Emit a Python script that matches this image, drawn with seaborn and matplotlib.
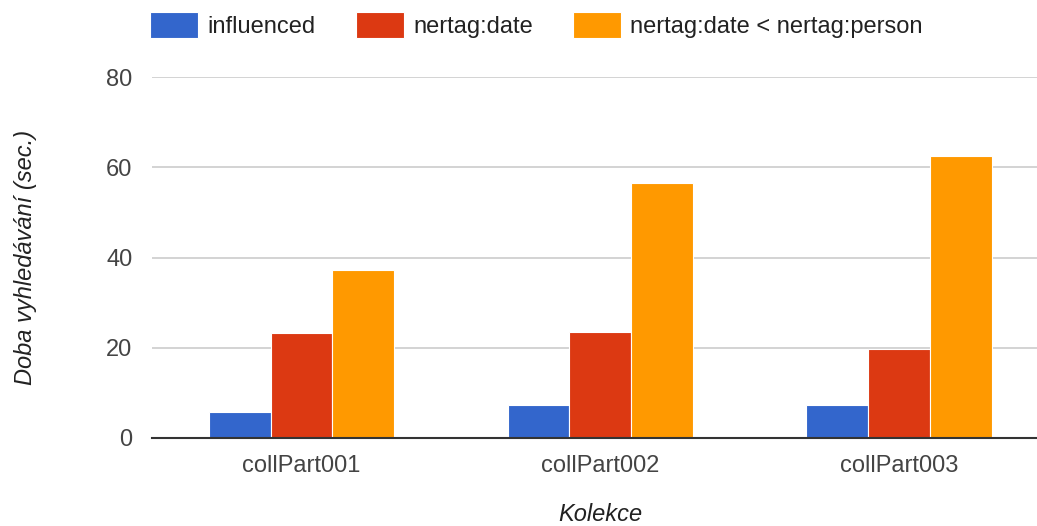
import pandas as pd
import seaborn as sns
import matplotlib.pyplot as plt

collections = ["collPart001", "collPart002", "collPart003"]
series = ["influenced", "nertag:date", "nertag:date < nertag:person"]
influenced = [5.8, 7.4, 7.4]
nertag_date = [23.2, 23.5, 19.8]
nertag_date_person = [37.2, 56.6, 62.4]
colors = ["#3366CC", "#DC3912", "#FF9900"]

df = pd.DataFrame({
    "Kolekce": collections * 3,
    "Series": [s for s in series for _ in collections],
    "Time": influenced + nertag_date + nertag_date_person,
})

sns.set_style("white")
plt.rcParams["font.family"] = ["Liberation Sans", "DejaVu Sans"]

fig = plt.figure(figsize=(10.37, 5.26), dpi=100)
ax = fig.add_axes([152 / 1037, 88 / 526, (1048.5 - 152) / 1037, 361 / 526])

sns.barplot(data=df, x="Kolekce", y="Time", hue="Series", palette=colors,
            width=0.62, edgecolor="white", linewidth=0.8, saturation=1,
            ax=ax, zorder=3)

ax.set_ylim(0, 80)
ax.set_xlim(-0.5, 2.5)
ax.set_yticks([0, 20, 40, 60, 80])
ax.grid(axis="y", color="#cccccc", linewidth=1.2, zorder=0)
ax.set_axisbelow(True)
for side in ["top", "right", "left"]:
    ax.spines[side].set_visible(False)
ax.spines["bottom"].set_color("#333333")
ax.spines["bottom"].set_linewidth(1.5)
ax.spines["bottom"].set_zorder(4)
ax.tick_params(axis="both", length=0, labelsize=17, labelcolor="#444444")
ax.tick_params(axis="y", pad=14)
ax.tick_params(axis="x", pad=12)

# axis titles, italic like the original chart
ax.set_xlabel("Kolekce", fontsize=17, style="italic", color="#222222", labelpad=19)
ax.set_ylabel("Doba vyhledávání (sec.)", fontsize=17, style="italic", color="#222222", labelpad=50)

handles, labels = ax.get_legend_handles_labels()
ax.legend_.remove()
fig.legend(handles, labels, loc="center left",
           bbox_to_anchor=(150 / 1037, 1 - 25 / 526), ncol=3, frameon=False,
           fontsize=17, handlelength=2.05, handleheight=1.3, handletextpad=0.38,
           columnspacing=1.7, borderpad=0, borderaxespad=0, labelcolor="#222222")

plt.savefig("out.png", dpi=100)
